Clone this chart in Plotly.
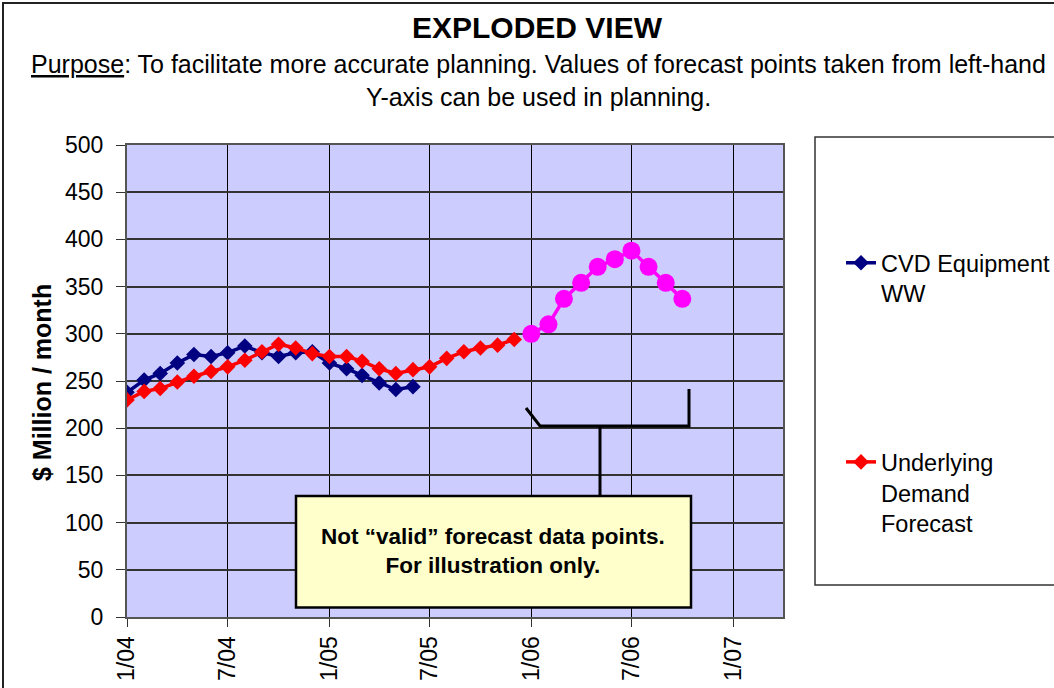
import plotly.graph_objects as go

# ---------------- data ----------------
cvd_months = ['2004-01-01', '2004-02-01', '2004-03-01', '2004-04-01', '2004-05-01', '2004-06-01',
              '2004-07-01', '2004-08-01', '2004-09-01', '2004-10-01', '2004-11-01', '2004-12-01',
              '2005-01-01', '2005-02-01', '2005-03-01', '2005-04-01', '2005-05-01', '2005-06-01']
cvd_values = [238, 251, 258, 269, 278, 276, 280, 287, 280, 276, 280, 281,
              269, 263, 256, 248, 241, 244]

demand_months = ['2004-01-01', '2004-02-01', '2004-03-01', '2004-04-01', '2004-05-01', '2004-06-01',
                 '2004-07-01', '2004-08-01', '2004-09-01', '2004-10-01', '2004-11-01', '2004-12-01',
                 '2005-01-01', '2005-02-01', '2005-03-01', '2005-04-01', '2005-05-01', '2005-06-01',
                 '2005-07-01', '2005-08-01', '2005-09-01', '2005-10-01', '2005-11-01', '2005-12-01']
demand_values = [230, 239, 242, 249, 255, 260, 265, 272, 281, 289, 285, 279,
                 276, 276, 271, 263, 258, 262, 265, 274, 281, 285, 288, 294]

illus_months = ['2006-01-01', '2006-02-01', '2006-03-01', '2006-04-01', '2006-05-01',
                '2006-06-01', '2006-07-01', '2006-08-01', '2006-09-01', '2006-10-01']
illus_values = [300, 310, 337, 354, 371, 379, 388, 371, 354, 337]

tick_dates = ['2004-01-01', '2004-07-01', '2005-01-01', '2005-07-01',
              '2006-01-01', '2006-07-01', '2007-01-01']
tick_labels = ['1/04', '7/04', '1/05', '7/05', '1/06', '7/06', '1/07']
y_ticks = list(range(0, 501, 50))

FONT = 'Liberation Sans, Arial, sans-serif'

# ---------------- figure ----------------
fig = go.Figure()

fig.add_trace(go.Scatter(
    x=cvd_months, y=cvd_values, name='CVD Equipment<br>WW', mode='lines+markers',
    line=dict(color='#000080', width=3.5),
    marker=dict(symbol='diamond', size=12, color='#000080'),
    legendgroup='a'))

fig.add_trace(go.Scatter(
    x=demand_months, y=demand_values, name='Underlying<br>Demand<br>Forecast', mode='lines+markers',
    line=dict(color='#FF0000', width=3.5),
    marker=dict(symbol='diamond', size=12, color='#FF0000'),
    legendgroup='b'))

fig.add_trace(go.Scatter(
    x=illus_months, y=illus_values, mode='lines+markers', showlegend=False,
    line=dict(color='#FF00FF', width=3.5),
    marker=dict(symbol='circle', size=18, color='#FF00FF')))

L, R, T, B = 127, 783, 145, 617
W, H = 1054, 688
pw, ph = R - L, B - T


def px(x):
    return (x - L) / pw


def py(y):
    return (B - y) / ph


shapes = []
# outer chart frame (only top/left visible)
shapes.append(dict(type='rect', xref='paper', yref='paper',
                   x0=px(3), y0=py(1200), x1=px(1300), y1=py(3),
                   line=dict(color='#222', width=2), layer='below'))
# legend box
shapes.append(dict(type='rect', xref='paper', yref='paper',
                   x0=px(815), y0=py(585), x1=px(1100), y1=py(137),
                   line=dict(color='#333', width=1.5)))
# bracket
shapes.append(dict(type='path', xref='paper', yref='paper',
                   path=f'M {px(526)},{py(408)} L {px(540)},{py(426)} L {px(689)},{py(426)} L {px(689)},{py(389)}',
                   line=dict(color='black', width=3)))
shapes.append(dict(type='line', xref='paper', yref='paper',
                   x0=px(600), y0=py(426), x1=px(600), y1=py(497),
                   line=dict(color='black', width=3)))
# note box
shapes.append(dict(type='rect', xref='paper', yref='paper',
                   x0=px(296), y0=py(607.5), x1=px(691), y1=py(496),
                   fillcolor='#FFFFCC', line=dict(color='black', width=2.5)))

annotations = [
    dict(text='<b>EXPLODED VIEW</b>', x=px(537), y=py(27), xref='paper', yref='paper',
         showarrow=False, font=dict(family=FONT, size=30, color='black'), xanchor='center', yanchor='middle'),
    dict(text='<u>Purpose</u>: To facilitate more accurate planning. Values of forecast points taken from left-hand',
         x=px(538), y=py(64), xref='paper', yref='paper', showarrow=False,
         font=dict(family=FONT, size=25, color='black'), xanchor='center', yanchor='middle'),
    dict(text='Y-axis can be used in planning.',
         x=px(538), y=py(97), xref='paper', yref='paper', showarrow=False,
         font=dict(family=FONT, size=25, color='black'), xanchor='center', yanchor='middle'),
    dict(text='<b>$ Million / month</b>', x=px(42), y=py(383), xref='paper', yref='paper',
         showarrow=False, textangle=-90, font=dict(family=FONT, size=25, color='black'),
         xanchor='center', yanchor='middle'),
    dict(text='<b>Not \u201cvalid\u201d forecast data points.<br>For illustration only.</b>',
         x=px(493), y=py(551), xref='paper', yref='paper', showarrow=False,
         font=dict(family=FONT, size=22.5, color='black'), xanchor='center', yanchor='middle'),
]

fig.update_layout(
    width=W, height=H,
    margin=dict(l=L, r=W - R, t=T, b=H - B, pad=0, autoexpand=False),
    paper_bgcolor='white', plot_bgcolor='#CCCCFF',
    font=dict(family=FONT, color='black'),
    showlegend=True,
    legend=dict(xref='container', yref='container', x=841 / W, y=1 - 241 / H,
                xanchor='left', yanchor='top',
                font=dict(family=FONT, size=23.5, color='black'),
                bgcolor='rgba(0,0,0,0)', borderwidth=0, valign='top',
                tracegroupgap=135, traceorder='grouped'),
    shapes=shapes, annotations=annotations,
    xaxis=dict(type='date', range=['2004-01-01', '2007-04-01'], automargin=False,
               tickvals=tick_dates, ticktext=tick_labels, tickangle=-90,
               tickfont=dict(family=FONT, size=23, color='black'),
               ticks='outside', ticklen=8, tickcolor='#333',
               showgrid=True, gridcolor='black', gridwidth=1,
               showline=True, linecolor='#555', linewidth=2, mirror=True, zeroline=False),
    yaxis=dict(range=[0, 500], tickvals=y_ticks, automargin=False,
               tickfont=dict(family=FONT, size=23, color='black'),
               ticks='outside', ticklen=9, tickcolor='#333', ticklabelstandoff=8,
               showgrid=True, gridcolor='#333', gridwidth=1.5,
               showline=True, linecolor='#555', linewidth=2, mirror=True, zeroline=False),
)

fig.write_html('out.html',
               config={'displayModeBar': False},
               post_script="document.body.style.margin='0';document.body.style.padding='0';"
                           "document.body.style.overflow='hidden';")
